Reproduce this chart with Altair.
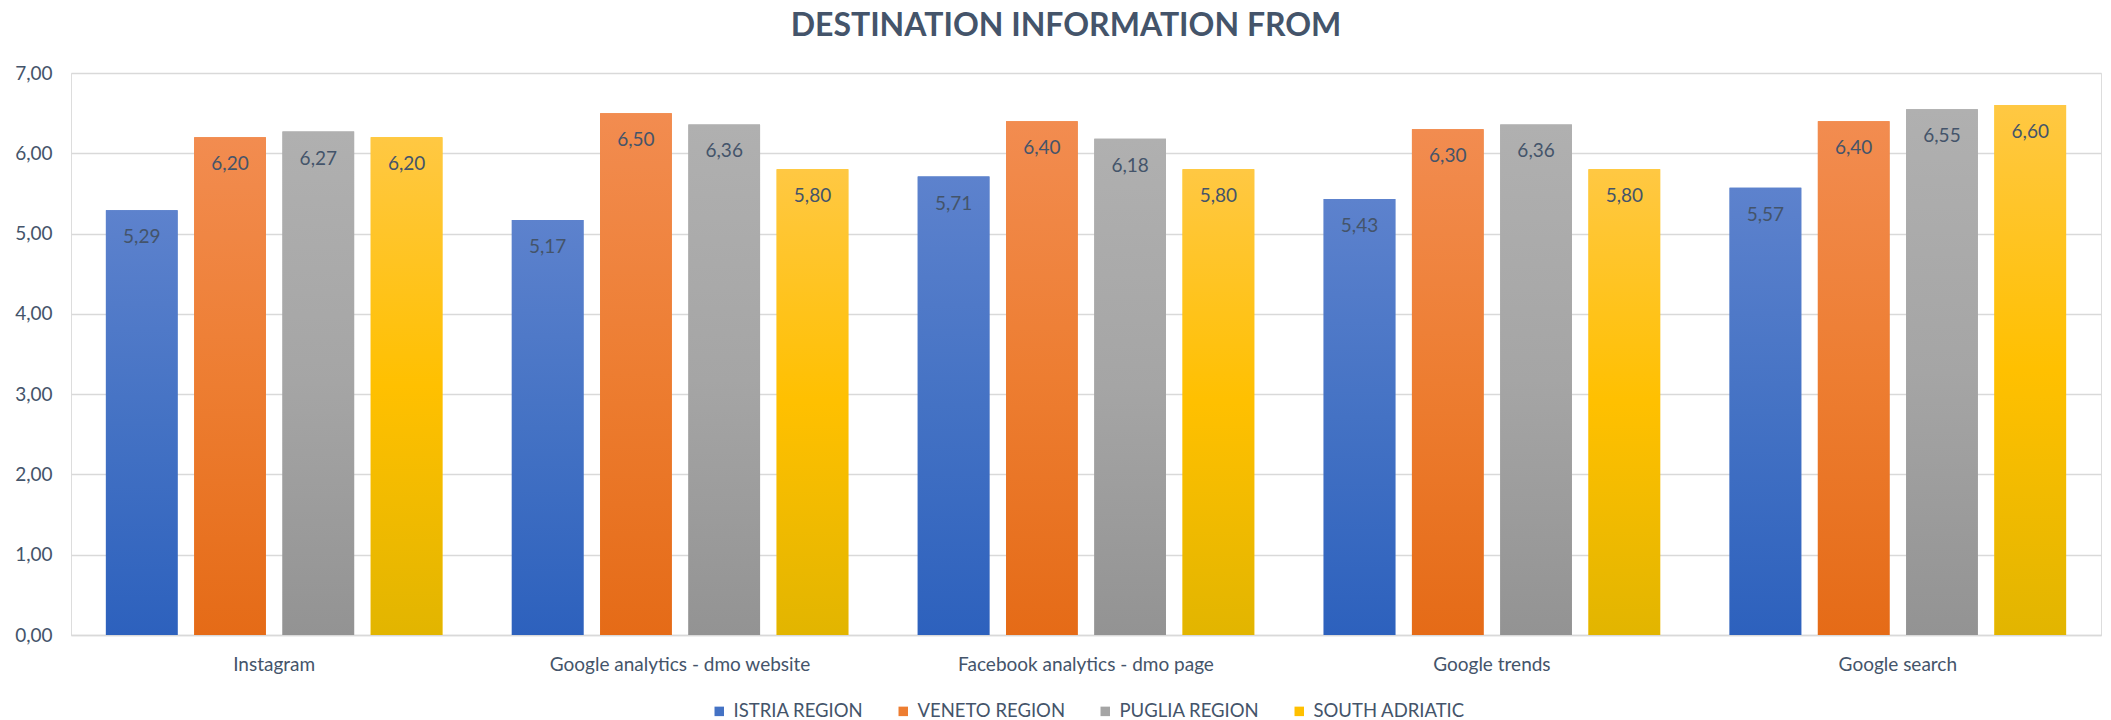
import altair as alt
import pandas as pd

categories = ["Instagram", "Google analytics - dmo website", "Facebook analytics - dmo page",
              "Google trends", "Google search"]
series = ["ISTRIA REGION", "VENETO REGION", "PUGLIA REGION", "SOUTH ADRIATIC"]
istria = [5.29, 5.17, 5.71, 5.43, 5.57]
veneto = [6.20, 6.50, 6.40, 6.30, 6.40]
puglia = [6.27, 6.36, 6.18, 6.36, 6.55]
south_adriatic = [6.20, 5.80, 5.80, 5.80, 6.60]
y_ticks = [0, 1, 2, 3, 4, 5, 6, 7]

base_colors = ["#4472c4", "#ed7d31", "#a5a5a5", "#ffc000"]
light_colors = ["#5d82cd", "#f28c50", "#b0b0b0", "#ffc843"]
dark_colors = ["#2d61bd", "#e56b17", "#939393", "#e2b500"]

rows = []
for s, vals in zip(series, [istria, veneto, puglia, south_adriatic]):
    for c, v in zip(categories, vals):
        rows.append({"category": c, "series": s, "value": v})
df = pd.DataFrame(rows)

TEXT = "#44546a"
FONT = "Lato"

x_enc = alt.X("category:N", sort=categories,
              scale=alt.Scale(paddingInner=0.171, paddingOuter=0.086),
              axis=alt.Axis(title=None, labelAngle=0, labelFontSize=19, labelColor=TEXT,
                            labelPadding=20, ticks=False, domainColor="#d9d9d9",
                            domainWidth=1.5, labelFont=FONT, labelLimit=0))
xoff_enc = alt.XOffset("series:N", sort=series,
                       scale=alt.Scale(domain=series, paddingInner=0.188, paddingOuter=0))
y_enc = alt.Y("value:Q", scale=alt.Scale(domain=[0, 7], nice=False),
              axis=alt.Axis(title=None, values=y_ticks,
                            labelExpr="replace(format(datum.value, '.2f'), '.', ',')",
                            labelFontSize=19, labelColor=TEXT, labelPadding=19,
                            domain=False, ticks=False, gridColor="#d9d9d9", gridWidth=1.3,
                            labelFont=FONT))

base = alt.Chart(df)

legend_layer = base.mark_bar().encode(
    x=x_enc, xOffset=xoff_enc, y=y_enc,
    color=alt.Color("series:N", sort=series,
                    scale=alt.Scale(domain=series, range=base_colors),
                    legend=alt.Legend(title=None, orient="none", direction="horizontal",
                                      legendX=639, legendY=629, columns=4,
                                      symbolType="square", symbolSize=90,
                                      symbolStrokeWidth=0,
                                      labelFontSize=18.5, labelColor=TEXT, labelFont=FONT,
                                      labelOffset=5, columnPadding=30)),
)

grad_layers = []
for s, lc, bc, dc in zip(series, light_colors, base_colors, dark_colors):
    grad = alt.Gradient(
        gradient="linear",
        stops=[alt.GradientStop(color=lc, offset=0),
               alt.GradientStop(color=bc, offset=0.5),
               alt.GradientStop(color=dc, offset=1)],
        x1=0, x2=0, y1=0, y2=1,
    )
    grad_layers.append(
        base.transform_filter(alt.datum.series == s)
        .mark_bar(fill=grad, strokeWidth=0)
        .encode(x=x_enc, xOffset=xoff_enc, y=y_enc)
    )

labels = base.transform_calculate(
    label="replace(format(datum.value, '.2f'), '.', ',')"
).mark_text(baseline="middle", dy=27, fontSize=19, color=TEXT, font=FONT).encode(
    x=x_enc, xOffset=xoff_enc, y=y_enc, text="label:N"
)

chart = alt.layer(legend_layer, *grad_layers, labels).properties(
    width=2030, height=562,
    title=alt.TitleParams("DESTINATION INFORMATION FROM", fontSize=32, font=FONT,
                          fontWeight="bold", color=TEXT, anchor="middle", offset=21,
                          dx=-20),
    padding={"left": 63, "top": 65, "right": 2, "bottom": 88},
    autosize=alt.AutoSizeParams(type="none"),
).configure_view(stroke=None).configure(font=FONT)

chart.save("out.html", embed_options={"renderer": "svg", "actions": False})
